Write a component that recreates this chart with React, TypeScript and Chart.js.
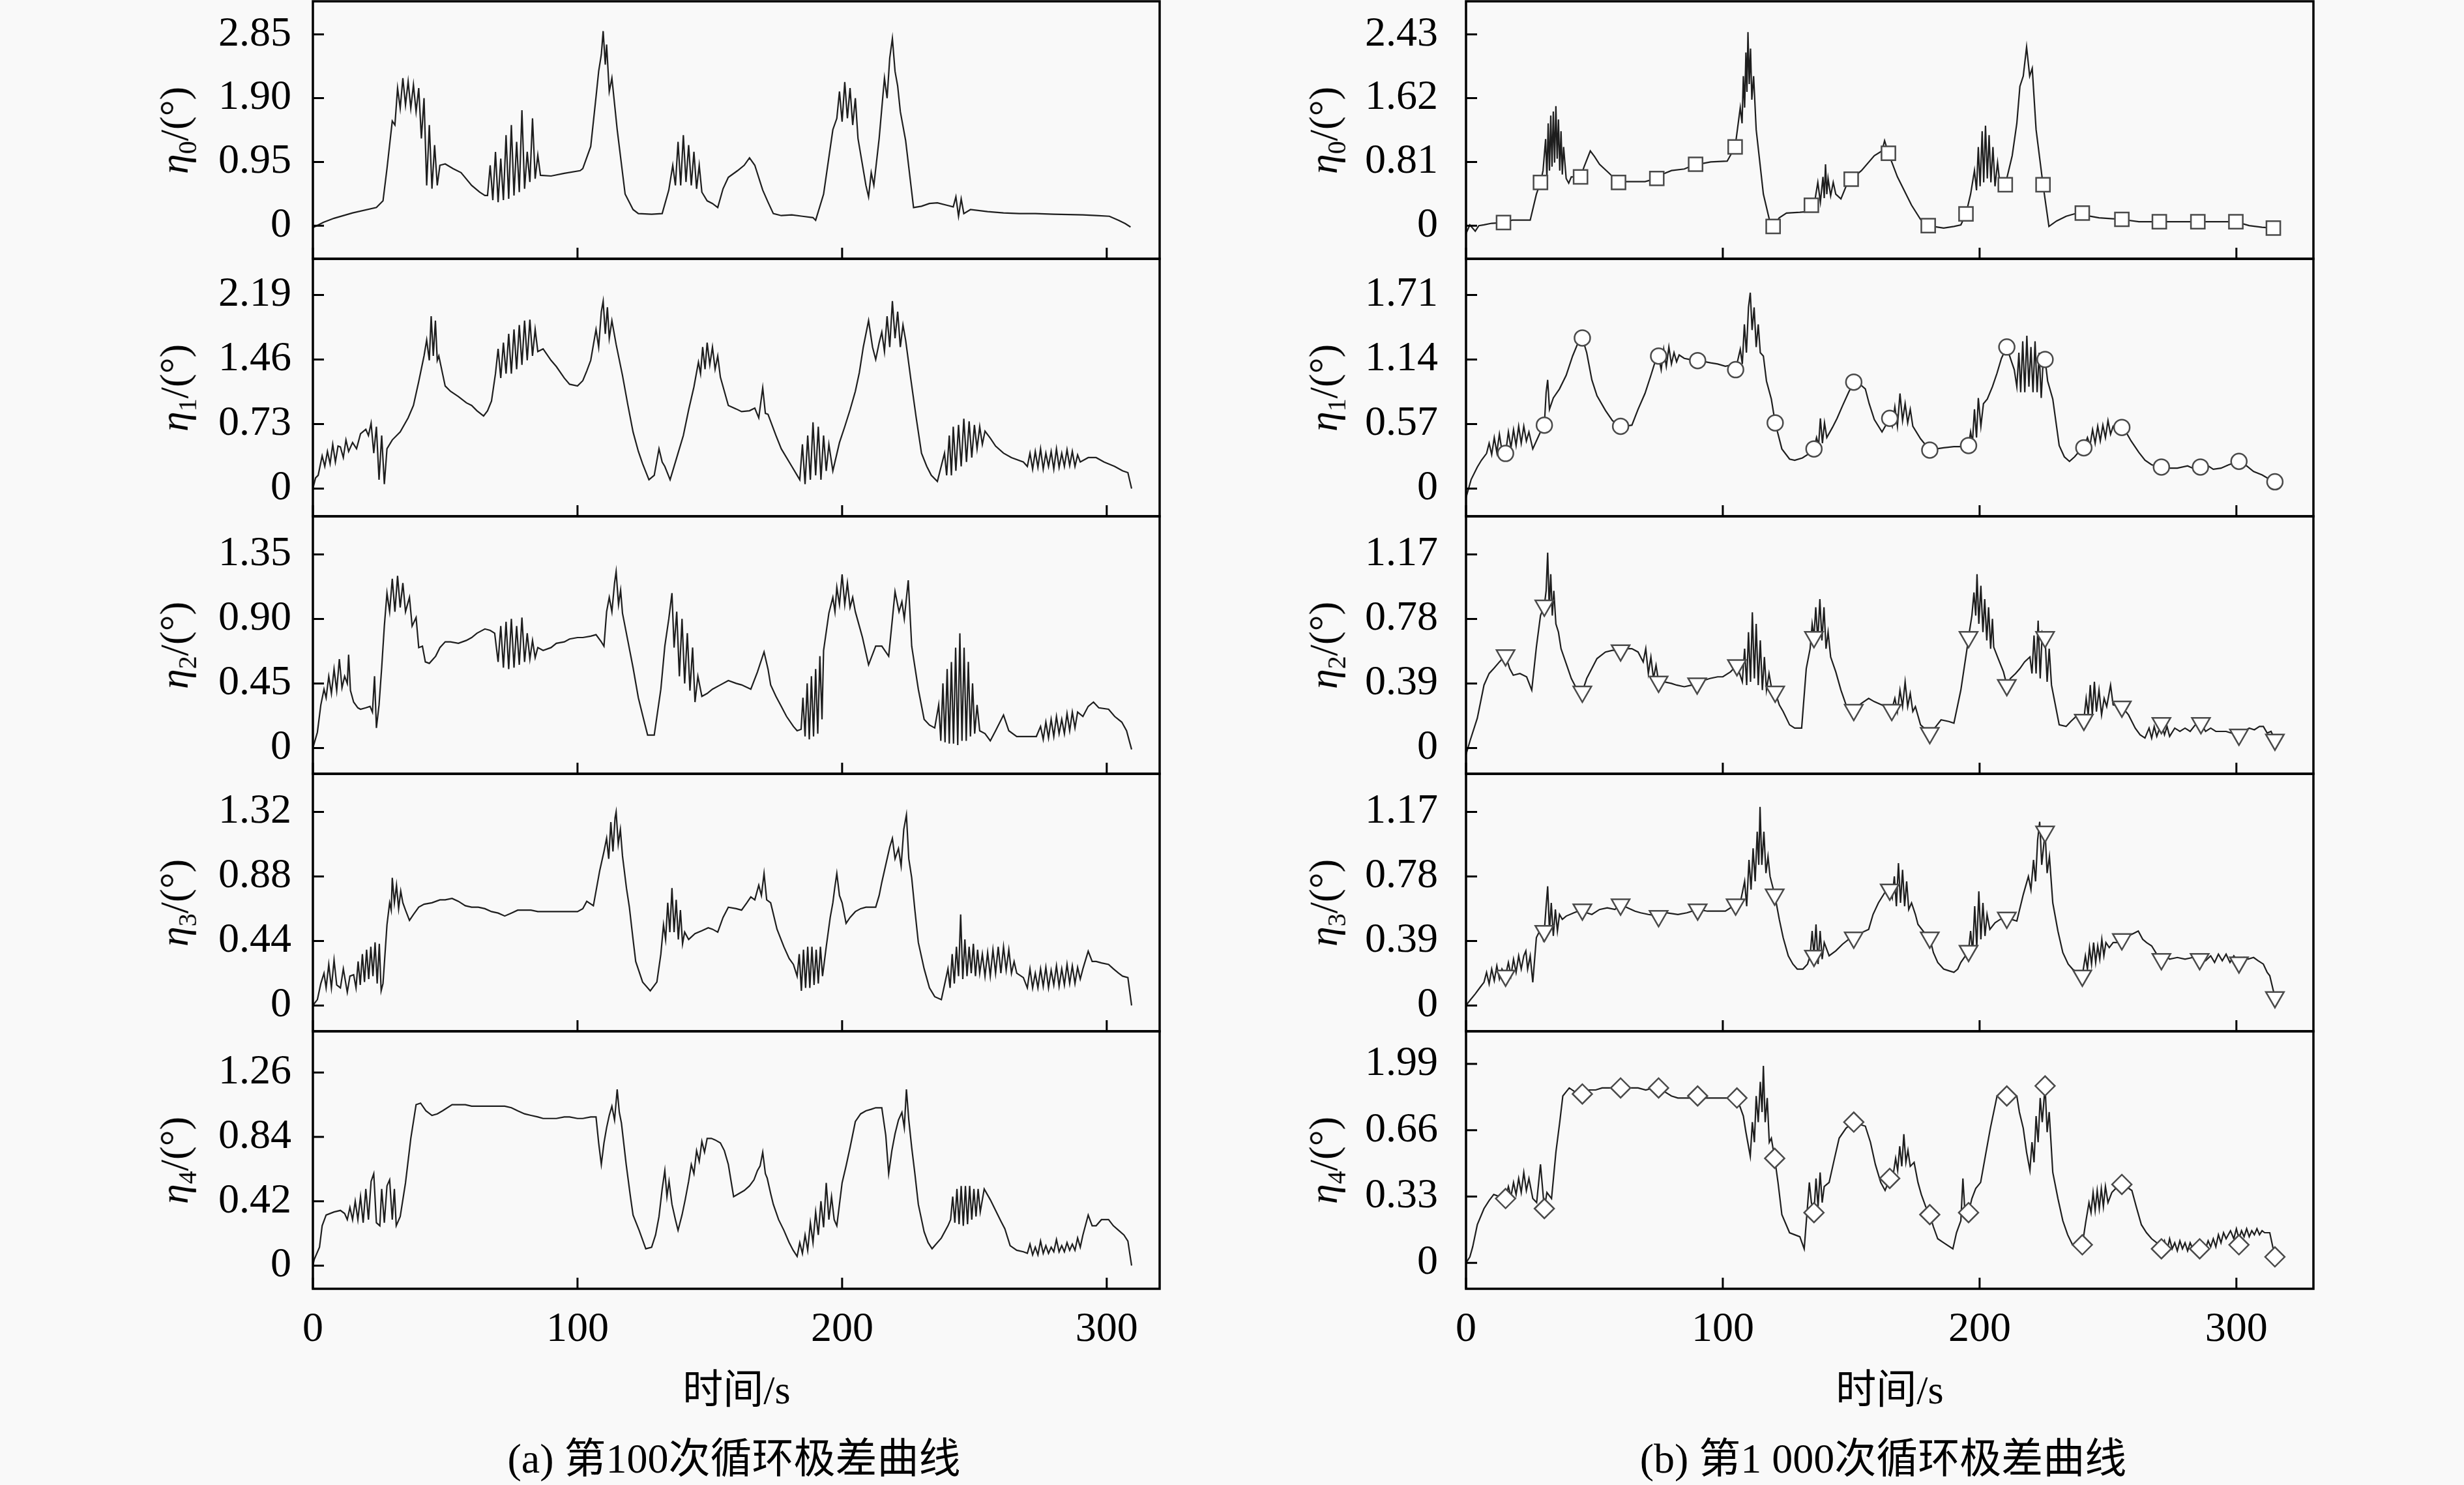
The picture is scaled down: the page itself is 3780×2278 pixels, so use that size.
import { useEffect, useRef } from "react";
import { Chart, registerables } from "chart.js";

Chart.register(...registerables);

type Pt = [number, number];

// ---- (a) cycle 100: range curves, time in s ----
const A0: Pt[] = [[0,-0.03],[4,0.05],[8,0.11],[15,0.19],[24,0.27],[26.5,0.37],[28,0.85],[30,1.56],[31,1.5],[32,2.05],[33,1.75],[34,2.2],[35,1.8],[36,2.15],[37,1.75],[38,2.1],[39,1.7],[40,2.05],[41,1.3],[42,1.9],[43,0.6],[44,1.5],[45,0.55],[46,1.2],[47,0.6],[48,0.9],[50,0.92],[53,0.85],[56,0.79],[60,0.6],[63,0.5],[65,0.45],[66,0.45],[67,0.9],[68,0.38],[69,1.1],[70,0.35],[71,1.0],[72,0.38],[73,1.35],[74,0.4],[75,1.5],[76,0.45],[77,1.25],[78,0.5],[79,1.72],[80,0.55],[81,1.1],[82,0.65],[83,1.6],[84,0.7],[85,1.05],[86,0.75],[90,0.74],[95,0.78],[101,0.82],[102,0.85],[105,1.18],[107,1.92],[108,2.3],[109,2.55],[109.7,2.9],[110.5,2.4],[111,2.7],[112,2.0],[113,2.2],[115,1.43],[118,0.47],[121,0.24],[123,0.18],[128,0.17],[132,0.18],[134.5,0.53],[136,0.9],[137,0.6],[138,1.25],[139,0.6],[140,1.35],[141,0.65],[142,1.2],[143,0.6],[144,1.1],[145,0.55],[146,0.9],[147,0.5],[149,0.37],[151,0.33],[153,0.27],[155,0.55],[157,0.72],[160.5,0.82],[163,0.9],[165,1.01],[167,0.9],[170,0.53],[172,0.35],[174,0.18],[177,0.15],[181,0.16],[185,0.14],[189,0.12],[190,0.08],[193,0.47],[196.5,1.43],[198,1.6],[199,2.0],[200,1.55],[201,2.14],[202,1.6],[203,2.05],[204,1.5],[205,1.9],[206,1.3],[207.5,0.95],[209,0.6],[210,0.43],[211,0.79],[212,0.6],[214,1.3],[216,2.2],[217,1.9],[218,2.5],[219,2.79],[220,2.3],[221,2.08],[222,1.7],[224,1.27],[227,0.27],[230,0.29],[233,0.33],[236,0.34],[240,0.3],[242,0.28],[243,0.43],[244,0.14],[245,0.4],[246,0.18],[248.5,0.24],[255,0.21],[261,0.19],[267,0.18],[273,0.18],[280,0.17],[291,0.16],[296,0.15],[301,0.14],[304.5,0.08],[307,0.03],[309,-0.02]];

const A1: Pt[] = [[0,0.0],[1,0.12],[2,0.15],[3.5,0.37],[4.5,0.25],[5.5,0.42],[6.5,0.28],[7.5,0.5],[8.5,0.3],[9.5,0.48],[10.4,0.47],[11.5,0.35],[12.5,0.55],[13.5,0.42],[15,0.52],[16.5,0.45],[18,0.62],[20,0.67],[21,0.6],[22,0.74],[23,0.4],[24,0.7],[25,0.1],[26,0.6],[27,0.05],[28,0.45],[30,0.55],[33,0.64],[36,0.8],[38,0.94],[40,1.21],[42,1.5],[43,1.68],[44,1.45],[44.7,1.95],[45.5,1.5],[46.3,1.9],[47,1.45],[47.6,1.5],[49,1.3],[50,1.16],[52,1.1],[55,1.04],[58,0.97],[60,0.94],[62,0.88],[64.5,0.82],[66,0.88],[67.5,0.99],[69,1.3],[70,1.58],[71,1.25],[72,1.65],[73,1.3],[74,1.75],[75,1.3],[76,1.8],[77,1.35],[78,1.85],[79,1.4],[80,1.9],[81,1.45],[82,1.91],[83,1.5],[84,1.8],[85,1.55],[87,1.58],[90,1.45],[92,1.38],[95,1.25],[97,1.18],[100,1.16],[102,1.22],[103.5,1.33],[105,1.45],[107,1.8],[108,1.6],[109,2.0],[109.7,2.12],[110.5,1.75],[111.3,2.05],[112,1.7],[113,1.9],[114.6,1.63],[117,1.28],[119,0.95],[121,0.64],[123,0.42],[124.6,0.28],[127,0.1],[129,0.15],[130.8,0.45],[132,0.3],[133,0.25],[135,0.1],[138,0.4],[140,0.6],[142,0.89],[144,1.15],[145.7,1.43],[146.5,1.3],[147.3,1.6],[148.2,1.35],[149,1.65],[150,1.4],[151,1.6],[152,1.35],[153,1.5],[154,1.26],[157,0.94],[160,0.9],[162,0.87],[165,0.88],[167,0.91],[168.5,0.8],[170,1.14],[171,0.85],[172,0.84],[175,0.6],[177,0.45],[181,0.25],[183,0.15],[184,0.1],[185,0.5],[186,0.05],[187,0.6],[188,0.1],[189,0.75],[190,0.15],[191,0.7],[192,0.1],[193,0.6],[194,0.2],[195,0.5],[196.5,0.2],[199,0.52],[201,0.7],[203,0.89],[205,1.1],[206.5,1.31],[208,1.6],[210,1.9],[211.5,1.6],[212.7,1.46],[214,1.65],[215,1.77],[216,1.55],[217,1.95],[218,1.6],[219,2.12],[220,1.7],[221,2.0],[222,1.6],[223,1.85],[224,1.68],[226,1.23],[228,0.8],[230,0.4],[232,0.25],[233.7,0.15],[236,0.08],[238.7,0.4],[239.5,0.15],[240.5,0.6],[241.3,0.15],[242,0.7],[243,0.2],[244,0.72],[245,0.25],[246,0.79],[247,0.3],[248,0.76],[249,0.35],[250,0.72],[251,0.45],[252,0.7],[253,0.5],[254,0.65],[256,0.57],[258,0.48],[261,0.4],[264,0.35],[268.5,0.3],[270,0.25],[271,0.4],[272,0.22],[273,0.42],[274,0.24],[275,0.45],[276,0.22],[277,0.4],[278,0.25],[279,0.42],[280,0.22],[281,0.45],[282,0.24],[283,0.4],[284,0.25],[285,0.44],[286,0.26],[287,0.42],[288,0.25],[289,0.38],[290,0.3],[293,0.35],[296,0.35],[299,0.3],[303,0.25],[306,0.2],[308,0.18],[309.4,0.0]];

const A2: Pt[] = [[0,0.0],[1.7,0.11],[3,0.3],[4.2,0.41],[5,0.35],[6,0.5],[7,0.38],[8,0.55],[9,0.4],[10,0.62],[11,0.42],[12,0.5],[13,0.45],[13.5,0.65],[14.2,0.4],[15.4,0.32],[17,0.28],[18,0.27],[20,0.28],[21.6,0.29],[22.5,0.25],[23.3,0.5],[24,0.14],[25,0.3],[26,0.56],[27,0.85],[28,1.08],[29,0.95],[30,1.18],[31,0.95],[32,1.2],[33,0.98],[34,1.15],[35,0.95],[36.5,1.05],[37.5,0.85],[39,0.91],[40,0.7],[41.4,0.71],[42.5,0.6],[44,0.59],[46.4,0.64],[48,0.7],[50,0.74],[52,0.74],[55,0.73],[58,0.75],[60,0.77],[62,0.8],[65,0.83],[67,0.82],[68.7,0.8],[70,0.6],[71,0.85],[72,0.56],[73,0.88],[74,0.55],[75,0.9],[76,0.56],[77,0.85],[78,0.58],[79,0.91],[80,0.6],[81,0.8],[82,0.62],[83,0.75],[84,0.63],[85,0.7],[87,0.68],[90,0.7],[92,0.73],[95,0.74],[97,0.76],[100,0.77],[102,0.77],[105,0.78],[107,0.79],[109,0.74],[110,0.71],[111,0.95],[112,1.05],[113,0.95],[114,1.15],[114.6,1.23],[115.5,1.0],[116.3,1.1],[117,0.94],[119,0.75],[121,0.56],[123,0.35],[125,0.2],[126.5,0.09],[129,0.09],[131.5,0.41],[133,0.71],[134.5,0.9],[135.7,1.08],[136.5,0.7],[137.5,0.95],[138.5,0.5],[139.5,0.9],[140.5,0.45],[141.5,0.8],[142.5,0.4],[143.5,0.7],[144.4,0.32],[145.5,0.5],[147,0.36],[149,0.38],[151,0.41],[154,0.44],[157,0.47],[160,0.45],[162,0.44],[165.5,0.41],[168,0.53],[170.5,0.67],[172,0.55],[173,0.44],[175,0.36],[177,0.29],[179,0.22],[181.6,0.15],[183,0.12],[184.5,0.13],[185.2,0.35],[186,0.08],[186.8,0.45],[187.6,0.06],[188.4,0.5],[189.2,0.08],[190,0.55],[190.8,0.1],[191.6,0.64],[192.4,0.2],[193,0.68],[195,0.94],[196.5,1.05],[197.3,0.95],[198,1.12],[199,1.0],[200,1.21],[201,1.0],[202,1.15],[203,0.98],[204,1.05],[205,0.95],[206.5,0.85],[207.7,0.77],[210,0.58],[212.7,0.71],[215,0.71],[217.6,0.64],[219,0.9],[220,1.09],[221.5,0.95],[222.6,1.02],[223.5,0.9],[225,1.17],[226.3,0.71],[228.8,0.41],[231,0.2],[233,0.16],[235,0.14],[236.5,0.3],[237.3,0.05],[238.1,0.45],[238.9,0.04],[239.7,0.55],[240.5,0.03],[241.3,0.6],[242.1,0.03],[242.9,0.7],[243.7,0.02],[244.5,0.8],[245.3,0.05],[246.1,0.7],[246.9,0.05],[247.7,0.6],[248.5,0.08],[249.3,0.45],[250.1,0.1],[251,0.3],[252,0.12],[254,0.1],[256,0.05],[258,0.12],[261,0.23],[263,0.12],[266,0.08],[270,0.08],[273.4,0.08],[275,0.15],[276,0.06],[277,0.18],[278,0.07],[279,0.2],[280,0.08],[281,0.22],[282,0.1],[283,0.2],[284,0.1],[285,0.24],[286,0.12],[287,0.25],[288,0.14],[289,0.25],[291,0.22],[293,0.29],[295,0.32],[297,0.28],[300.7,0.27],[303,0.22],[305.7,0.18],[307.5,0.12],[309.4,-0.01]];

const A3: Pt[] = [[0,0.0],[1.7,0.04],[3,0.15],[4.2,0.22],[5,0.12],[6,0.28],[7,0.12],[8,0.31],[9,0.14],[10.4,0.12],[11.5,0.25],[13,0.09],[14,0.2],[15.4,0.21],[16.3,0.12],[17.1,0.3],[17.9,0.14],[18.7,0.35],[19.5,0.16],[20.3,0.38],[21.1,0.18],[21.9,0.4],[22.7,0.2],[23.5,0.43],[24.3,0.15],[25.1,0.42],[25.8,0.1],[26.5,0.15],[28,0.55],[29,0.7],[29.6,0.65],[30,0.87],[30.8,0.7],[31.6,0.82],[32.4,0.66],[33.2,0.78],[34,0.7],[35,0.65],[36.5,0.58],[38,0.62],[40,0.67],[42,0.69],[45,0.7],[48,0.72],[50,0.72],[52.6,0.73],[55,0.71],[57.6,0.68],[60,0.67],[62.5,0.67],[65,0.66],[67.5,0.64],[70,0.63],[72.5,0.61],[75,0.63],[77.4,0.65],[80,0.65],[82.4,0.65],[85,0.64],[87,0.64],[92,0.64],[96,0.64],[100,0.64],[102,0.66],[103.5,0.71],[106,0.68],[108.4,0.92],[110,1.05],[111,1.14],[111.8,1.0],[112.6,1.25],[113.4,1.05],[114.2,1.28],[114.6,1.32],[115.4,1.1],[116.2,1.2],[117,1.02],[118.5,0.8],[119.6,0.67],[121,0.45],[122,0.3],[124.6,0.16],[127.5,0.1],[130,0.16],[131.5,0.35],[132.5,0.55],[133.3,0.45],[134.1,0.7],[134.9,0.5],[135.7,0.8],[136.5,0.5],[137.3,0.72],[138.1,0.45],[138.9,0.65],[139.7,0.42],[140.5,0.5],[142,0.45],[144.4,0.49],[147,0.51],[149.4,0.53],[151,0.52],[153,0.5],[155,0.6],[157,0.67],[160,0.66],[162,0.65],[164,0.7],[165.5,0.74],[167,0.72],[168.5,0.82],[169.5,0.75],[170.5,0.9],[171.5,0.72],[173,0.7],[175.4,0.52],[178,0.4],[180,0.32],[181.6,0.28],[183,0.2],[183.8,0.35],[184.6,0.1],[185.4,0.38],[186.2,0.12],[187,0.4],[187.8,0.12],[188.6,0.4],[189.4,0.14],[190.2,0.38],[191,0.15],[191.8,0.4],[192.6,0.2],[194,0.4],[195.5,0.6],[196.5,0.7],[197.2,0.8],[198,0.9],[199,0.75],[200,0.7],[201.5,0.56],[203,0.6],[205,0.64],[207,0.66],[209,0.67],[211,0.67],[212.7,0.67],[214,0.75],[215,0.84],[217,1.0],[218,1.08],[219,1.14],[220,1.0],[221.3,1.07],[222.3,0.95],[223.3,1.2],[224.3,1.3],[225.2,1.0],[226.3,0.87],[227.5,0.65],[228.8,0.43],[231,0.25],[233,0.12],[235,0.06],[237.5,0.04],[240,0.25],[240.8,0.12],[241.6,0.35],[242.4,0.15],[243.2,0.4],[244,0.2],[244.8,0.62],[245.6,0.18],[246.4,0.45],[247.2,0.2],[248,0.4],[248.8,0.22],[249.6,0.42],[250.4,0.2],[251.2,0.38],[252,0.22],[253,0.35],[254,0.2],[255,0.36],[256,0.2],[257,0.38],[258,0.22],[259,0.4],[260,0.22],[261,0.4],[262,0.24],[263,0.38],[264,0.22],[265,0.3],[266,0.22],[268.5,0.19],[270,0.12],[271,0.25],[272,0.12],[273,0.22],[274,0.12],[275,0.25],[276,0.13],[277,0.26],[278,0.12],[279,0.24],[280,0.14],[281,0.27],[282,0.13],[283,0.25],[284,0.14],[285,0.28],[286,0.15],[287,0.27],[288,0.15],[289,0.26],[290,0.18],[291,0.25],[293,0.37],[294.5,0.3],[296,0.3],[298,0.29],[300.7,0.28],[302.5,0.25],[304.5,0.22],[306,0.2],[308,0.19],[309.4,0.0]];

const A4: Pt[] = [[0,0.0],[0.5,0.04],[2.5,0.12],[3.5,0.26],[5,0.33],[8,0.35],[10.4,0.36],[12,0.34],[13,0.3],[14,0.38],[15,0.3],[16,0.42],[17,0.3],[18,0.45],[19,0.28],[20,0.5],[21,0.3],[22,0.55],[23,0.6],[24,0.28],[25.3,0.26],[26,0.5],[27,0.28],[28,0.52],[29,0.56],[30,0.3],[30.8,0.5],[31.5,0.26],[33,0.32],[35,0.54],[37,0.83],[39,1.05],[40.7,1.06],[42.7,1.01],[45,0.98],[47,0.99],[49,1.01],[52.6,1.05],[55,1.05],[57.6,1.05],[60,1.04],[62.5,1.04],[65,1.04],[67.5,1.04],[70,1.04],[72.5,1.04],[75,1.03],[77.4,1.01],[80,0.99],[82.4,0.98],[85,0.97],[87,0.96],[90,0.96],[92,0.96],[95,0.97],[97,0.97],[100,0.96],[102,0.96],[105,0.97],[107,0.97],[108,0.8],[109,0.66],[110,0.8],[111,0.9],[112,0.98],[113,1.04],[114,0.95],[115,1.15],[115.8,1.0],[116.6,0.93],[118.4,0.66],[120,0.45],[121,0.33],[123.3,0.23],[125.8,0.11],[128,0.12],[129.5,0.2],[130.8,0.32],[132,0.5],[133,0.62],[133.8,0.45],[134.6,0.55],[135.7,0.4],[137,0.3],[138,0.23],[139.5,0.33],[140.7,0.43],[142,0.55],[143,0.66],[144,0.6],[145,0.75],[146,0.68],[147,0.81],[148,0.74],[149,0.83],[150.6,0.83],[152,0.82],[154,0.8],[155.5,0.75],[157,0.66],[159,0.45],[161,0.47],[163,0.49],[165,0.52],[166.7,0.56],[168,0.62],[169,0.65],[170,0.74],[171,0.6],[171.7,0.57],[173,0.47],[174,0.4],[176,0.3],[178,0.23],[180,0.15],[181.5,0.1],[183,0.06],[184,0.15],[185,0.08],[186,0.2],[187,0.1],[188,0.28],[189,0.15],[190,0.35],[191,0.2],[192,0.42],[193,0.25],[194,0.54],[195,0.3],[196,0.45],[197,0.3],[198,0.26],[199,0.4],[200,0.54],[201.5,0.65],[203,0.77],[205,0.94],[207,0.99],[209,1.01],[211,1.02],[212.7,1.03],[215,1.03],[216.5,0.85],[217.6,0.6],[218.8,0.75],[220,0.86],[221.3,0.95],[222.6,1.0],[223.5,0.9],[224.3,1.15],[225.2,0.95],[226.3,0.77],[227.5,0.6],[228.8,0.4],[231,0.22],[232.5,0.15],[234,0.11],[235.5,0.14],[237.5,0.18],[240,0.26],[241,0.3],[241.8,0.45],[242.6,0.28],[243.4,0.5],[244.2,0.27],[245,0.52],[245.8,0.26],[246.6,0.52],[247.4,0.27],[248.2,0.52],[249,0.3],[249.8,0.5],[250.6,0.32],[251.4,0.5],[252.2,0.35],[253.7,0.5],[256,0.43],[258,0.36],[260,0.29],[261.5,0.24],[263.5,0.13],[266,0.1],[268.5,0.09],[270,0.08],[271,0.14],[272,0.07],[273,0.12],[274,0.07],[275,0.16],[276,0.08],[277,0.13],[278,0.08],[279,0.12],[280,0.09],[281,0.17],[282,0.09],[283,0.13],[284,0.09],[285,0.15],[286,0.1],[287,0.14],[288,0.1],[289,0.18],[290,0.12],[291,0.2],[293,0.33],[294.5,0.26],[296,0.26],[298,0.3],[300.7,0.3],[302.5,0.26],[304.5,0.23],[306.5,0.2],[308,0.16],[309.4,0.0]];

// ---- (b) cycle 1 000 ----
const B0: Pt[] = [[0,-0.1],[1.5,0.01],[3.6,-0.07],[5,0.0],[7,0.01],[10,0.03],[14.6,0.04],[18,0.07],[22,0.07],[25,0.07],[27.4,0.4],[29,0.55],[30,0.7],[31,1.1],[31.5,0.6],[32,1.3],[32.5,0.7],[33,1.4],[33.5,0.75],[34,1.45],[34.5,0.8],[35,1.52],[35.5,0.85],[36,1.35],[36.5,0.7],[37,1.2],[37.5,0.65],[38,1.0],[39,0.6],[40,0.54],[41,0.62],[43,0.62],[44.6,0.62],[46,0.75],[48.4,0.95],[50,0.88],[52,0.78],[55.6,0.67],[59.4,0.55],[62,0.56],[64.6,0.56],[69.7,0.56],[72,0.58],[74.3,0.6],[77,0.66],[80,0.7],[85,0.72],[89.4,0.78],[92,0.79],[95.3,0.81],[101.7,0.82],[104.8,1.0],[106.8,1.5],[107.5,1.3],[108,1.9],[108.5,1.5],[109,2.2],[109.4,1.7],[109.8,2.46],[110.3,1.8],[110.8,2.25],[111.3,1.6],[112,1.9],[113,1.22],[115.8,0.4],[118.4,0.04],[119.6,-0.01],[122,0.1],[124.8,0.16],[130,0.17],[133.7,0.18],[134.5,0.26],[136,0.35],[137,0.55],[138,0.3],[139,0.62],[139.5,0.35],[140,0.78],[140.5,0.4],[141,0.6],[142,0.38],[143,0.55],[144,0.4],[146,0.34],[148,0.5],[150,0.59],[154,0.7],[159,0.89],[162,0.95],[163,1.08],[164.5,0.92],[168,0.62],[173.5,0.26],[177,0.08],[180,0.0],[186,-0.03],[190,-0.01],[192.7,0.01],[194.7,0.15],[196.5,0.4],[198,0.7],[198.8,0.45],[199.5,1.0],[200.2,0.5],[201,1.2],[201.6,0.55],[202.3,1.27],[203,0.6],[203.7,1.15],[204.4,0.55],[205.2,1.0],[206,0.5],[207,0.8],[208,0.5],[210,0.52],[212.7,0.89],[214.5,1.3],[215.7,1.77],[217,1.9],[218.3,2.27],[219.5,1.9],[220.5,2.0],[222,1.22],[224.7,0.52],[227,-0.01],[230,0.06],[233.7,0.12],[237,0.15],[240,0.16],[243,0.12],[246.5,0.1],[251,0.09],[255.4,0.08],[262,0.05],[266,0.05],[270,0.05],[277,0.05],[285,0.05],[292,0.05],[299.8,0.05],[305,0.0],[310,-0.02],[314.4,-0.03]];
const B0_MARKS: Pt[] = [[14.6,0.04],[29,0.55],[44.6,0.62],[59.4,0.55],[74.3,0.6],[89.4,0.78],[104.8,1.0],[119.6,-0.01],[134.5,0.26],[150,0.59],[164.5,0.92],[180,0.0],[194.7,0.15],[210,0.52],[224.7,0.52],[240,0.16],[255.4,0.08],[270,0.05],[285,0.05],[299.8,0.05],[314.4,-0.03]];

const B1: Pt[] = [[0,-0.08],[2,0.08],[4.4,0.19],[6,0.25],[8,0.31],[9,0.4],[10,0.3],[11,0.45],[12,0.32],[13,0.48],[14,0.33],[15.4,0.31],[16.5,0.5],[17.5,0.36],[18.5,0.52],[19.5,0.38],[20.5,0.55],[21.5,0.4],[22.5,0.55],[23.5,0.42],[24.5,0.5],[26,0.35],[28,0.45],[29,0.5],[30.5,0.56],[31.2,0.85],[31.8,0.96],[32.5,0.7],[34,0.8],[36.4,0.88],[39,1.0],[41.5,1.17],[43.5,1.28],[45.3,1.33],[47,1.2],[49,0.96],[51,0.82],[54.3,0.69],[57,0.6],[60.2,0.55],[62,0.55],[64.6,0.56],[67,0.7],[69.7,0.84],[72,1.0],[73.5,1.11],[75,1.17],[76,1.05],[77,1.23],[78,1.08],[79,1.25],[80,1.1],[81,1.2],[82,1.12],[83,1.18],[85,1.15],[87,1.14],[90.2,1.13],[93,1.12],[95.3,1.11],[98,1.1],[101,1.08],[103,1.09],[105,1.05],[106.8,1.23],[107.6,1.1],[108.4,1.45],[109.2,1.2],[110,1.6],[110.7,1.73],[111.4,1.4],[112.2,1.6],[113,1.25],[113.8,1.45],[114.6,1.2],[115.8,1.17],[117,0.95],[118.9,0.79],[120.4,0.58],[123,0.35],[126,0.26],[128,0.25],[131,0.27],[133,0.3],[135.5,0.35],[136.5,0.45],[137.3,0.38],[138,0.62],[138.8,0.4],[139.6,0.58],[140.5,0.45],[142.7,0.54],[144.5,0.62],[146.6,0.73],[149,0.85],[151,0.94],[153,0.93],[155.5,0.88],[157,0.75],[159,0.61],[162,0.5],[165,0.62],[166,0.55],[167,0.72],[168,0.55],[169,0.84],[170,0.6],[171,0.75],[172,0.58],[173,0.7],[174,0.55],[177,0.44],[180.6,0.34],[183,0.35],[186,0.36],[190,0.37],[193,0.37],[195.7,0.38],[196.5,0.5],[197.2,0.4],[198,0.7],[198.8,0.45],[199.5,0.8],[200.5,0.55],[201.5,0.75],[203,0.79],[205,0.9],[206.8,1.02],[208.5,1.15],[210.6,1.25],[212,1.15],[213.5,1.05],[214.5,0.9],[215.3,1.2],[216,0.85],[216.8,1.3],[217.6,0.85],[218.4,1.35],[219.2,0.9],[220,1.25],[220.8,0.85],[221.6,1.3],[222.4,0.85],[223.2,1.2],[224,0.8],[224.8,1.15],[225.5,1.14],[226.5,0.95],[228.5,0.79],[231,0.38],[233,0.28],[235,0.24],[237,0.28],[238.5,0.32],[240.6,0.36],[242,0.45],[243,0.38],[244,0.52],[245,0.4],[246,0.55],[247,0.42],[248,0.56],[249,0.45],[250,0.6],[251,0.48],[252,0.55],[253.5,0.52],[255.4,0.54],[257,0.5],[259,0.42],[262,0.32],[264.4,0.25],[267,0.21],[270.8,0.19],[274,0.18],[277,0.18],[281,0.2],[283,0.18],[286,0.19],[289,0.2],[291,0.17],[294,0.18],[297,0.21],[301,0.24],[304,0.2],[306.7,0.15],[310,0.12],[313,0.08],[315,0.06]];
const B1_MARKS: Pt[] = [[15.4,0.31],[30.5,0.56],[45.3,1.33],[60.2,0.55],[75,1.17],[90.2,1.13],[105,1.05],[120.4,0.58],[135.5,0.35],[151,0.94],[165,0.62],[180.6,0.34],[195.7,0.38],[210.6,1.25],[225.5,1.14],[240.6,0.36],[255.4,0.54],[270.8,0.19],[286,0.19],[301,0.24],[315,0.06]];

const B2: Pt[] = [[0,-0.04],[1.5,0.04],[4.4,0.18],[7,0.38],[9,0.45],[10.8,0.48],[13,0.52],[15.4,0.56],[17,0.48],[18.4,0.44],[21,0.45],[23.6,0.43],[25.6,0.35],[27.4,0.61],[29,0.8],[30.5,0.86],[31.2,0.95],[31.8,1.18],[32.4,0.85],[33,1.05],[33.6,0.8],[34.2,0.95],[35,0.75],[36,0.7],[37,0.6],[39,0.51],[41,0.42],[43,0.36],[45.3,0.34],[47,0.42],[49,0.48],[51,0.54],[54.3,0.58],[57,0.59],[60.2,0.59],[62,0.6],[64.6,0.6],[67,0.58],[69,0.52],[70,0.6],[71,0.45],[72,0.55],[73,0.42],[74,0.5],[75,0.4],[77,0.4],[80,0.39],[82,0.38],[85,0.37],[88,0.38],[90,0.39],[93,0.41],[95,0.42],[98,0.43],[100,0.43],[103,0.46],[105.5,0.5],[107.6,0.4],[108.5,0.6],[109.3,0.38],[110,0.7],[110.8,0.4],[111.5,0.82],[112.3,0.42],[113,0.75],[113.8,0.38],[114.6,0.65],[115.4,0.35],[116.2,0.55],[117,0.35],[118,0.45],[119,0.36],[120.4,0.34],[122,0.26],[123.5,0.22],[126,0.14],[128,0.12],[130.7,0.12],[132.5,0.48],[134,0.6],[134.8,0.75],[135.5,0.67],[136.2,0.85],[137,0.65],[137.8,0.9],[138.6,0.65],[139.4,0.85],[140.2,0.6],[141,0.7],[142,0.55],[144,0.46],[146,0.35],[148,0.26],[151,0.23],[154,0.27],[156.8,0.3],[159,0.28],[162,0.26],[165.8,0.23],[167,0.3],[168,0.22],[169,0.35],[170,0.25],[171,0.4],[172,0.25],[173,0.33],[174,0.22],[175,0.25],[177,0.14],[180.6,0.09],[183,0.13],[185,0.17],[188,0.16],[190,0.15],[192.7,0.35],[195.2,0.61],[195.7,0.67],[197,0.8],[197.8,0.94],[198.5,0.8],[199,1.05],[199.7,0.75],[200.5,0.98],[201.3,0.7],[202,0.9],[202.8,0.65],[203.5,0.85],[204.3,0.6],[205,0.78],[205.5,0.61],[207,0.55],[209.3,0.46],[210.6,0.38],[212,0.42],[214,0.45],[215.7,0.48],[217.5,0.52],[219.6,0.55],[220.4,0.45],[221.2,0.68],[222,0.45],[222.8,0.77],[223.6,0.42],[224.4,0.7],[225.5,0.67],[226.3,0.4],[227.1,0.6],[228,0.38],[229,0.3],[231,0.14],[233.7,0.13],[235.5,0.16],[237.5,0.19],[240.6,0.17],[241.5,0.3],[242.3,0.2],[243.1,0.38],[243.9,0.2],[244.7,0.4],[245.5,0.22],[246.5,0.35],[247.5,0.2],[248.5,0.3],[249.5,0.25],[251,0.38],[252,0.26],[255.4,0.25],[258,0.2],[260.6,0.12],[262.5,0.08],[264.4,0.06],[266,0.12],[267,0.06],[268,0.13],[269,0.07],[270.8,0.15],[272,0.08],[273,0.13],[274,0.07],[276,0.12],[278,0.1],[280,0.12],[282,0.1],[284,0.14],[286.2,0.15],[288,0.1],[290,0.12],[292,0.1],[294,0.1],[296,0.1],[298,0.09],[301,0.08],[303,0.1],[305,0.12],[307,0.11],[309,0.13],[310.5,0.13],[312,0.09],[313.5,0.1],[315,0.05]];
const B2_MARKS: Pt[] = [[15.4,0.56],[30.5,0.86],[45.3,0.34],[60.2,0.59],[75,0.4],[90,0.39],[105.5,0.5],[120.4,0.34],[135.5,0.67],[151,0.23],[165.8,0.23],[180.6,0.09],[195.7,0.67],[210.6,0.38],[225.5,0.67],[240.6,0.17],[255.4,0.25],[270.8,0.15],[286.2,0.15],[301,0.08],[315,0.05]];

const B3: Pt[] = [[0,0.0],[1.5,0.03],[3.6,0.07],[5.5,0.11],[7,0.14],[8,0.2],[9,0.13],[10,0.22],[11,0.15],[12,0.24],[13,0.16],[14,0.22],[15.4,0.18],[16.5,0.26],[17.5,0.18],[18.5,0.28],[19.5,0.2],[20.5,0.3],[21.5,0.22],[22.5,0.3],[23.3,0.33],[24,0.22],[25,0.3],[26,0.14],[27.4,0.41],[29,0.46],[30,0.4],[30.5,0.45],[31.2,0.6],[31.8,0.72],[32.5,0.45],[33.2,0.62],[34,0.42],[34.8,0.58],[35.6,0.45],[36.4,0.55],[37.5,0.52],[39,0.54],[42,0.56],[45.3,0.58],[47,0.56],[49,0.55],[52,0.58],[55,0.59],[58,0.58],[60.2,0.61],[63,0.59],[65.8,0.57],[68,0.56],[71,0.55],[75,0.54],[78,0.56],[82.5,0.55],[86,0.56],[90.2,0.58],[94,0.57],[97.9,0.57],[101,0.57],[105,0.61],[106.8,0.62],[108.5,0.75],[109.3,0.6],[110.2,0.88],[111,0.7],[111.8,0.95],[112.6,0.75],[113.4,1.05],[114,0.85],[114.5,1.2],[115.2,0.85],[116,1.05],[116.8,0.8],[117.6,0.9],[118.4,0.78],[120.2,0.67],[122,0.52],[123.5,0.41],[125.5,0.3],[127.3,0.25],[129,0.22],[131.2,0.22],[133,0.25],[134,0.3],[134.8,0.45],[135.5,0.3],[136.3,0.49],[137.1,0.25],[137.9,0.45],[138.7,0.28],[139.5,0.38],[141.4,0.3],[144,0.33],[146.6,0.37],[149,0.4],[151,0.41],[154,0.44],[156.8,0.46],[158.5,0.55],[160.6,0.62],[163,0.68],[165,0.7],[166,0.65],[166.8,0.78],[167.6,0.6],[168.4,0.86],[169.2,0.62],[170,0.82],[170.8,0.6],[171.6,0.75],[172.4,0.58],[173.5,0.62],[175,0.55],[176,0.49],[178,0.45],[180.6,0.41],[182,0.32],[183.7,0.26],[186,0.22],[188,0.21],[190,0.2],[191.5,0.22],[192.7,0.26],[194.5,0.3],[195.7,0.33],[196.5,0.45],[197.3,0.32],[198.1,0.6],[198.9,0.35],[199.7,0.69],[200.5,0.4],[201.3,0.62],[202.1,0.42],[202.9,0.55],[204,0.46],[206,0.5],[208,0.52],[210.6,0.53],[212.5,0.52],[214.5,0.51],[217,0.67],[219,0.78],[220,0.7],[221,0.88],[221.8,0.75],[222.6,1.0],[223.4,1.11],[224.2,0.85],[225.5,1.05],[226.3,0.8],[227.2,0.9],[228.5,0.62],[230.5,0.45],[232.4,0.32],[234.5,0.25],[236.2,0.22],[238,0.2],[240,0.18],[241.2,0.3],[242,0.22],[242.8,0.35],[243.6,0.25],[244.4,0.38],[245.2,0.26],[246,0.36],[246.8,0.28],[247.6,0.4],[248.4,0.3],[249.2,0.38],[250.5,0.35],[252,0.38],[253.5,0.38],[255.4,0.4],[258,0.42],[261.8,0.45],[263.5,0.4],[265,0.38],[267,0.36],[269,0.31],[270.8,0.28],[272.5,0.3],[274,0.28],[277,0.29],[280,0.28],[283,0.29],[285.7,0.28],[288,0.27],[290,0.3],[291.5,0.26],[293,0.31],[294.5,0.27],[296,0.31],[297.5,0.26],[299,0.3],[301,0.26],[303,0.29],[304.5,0.28],[306.7,0.29],[308.5,0.27],[310.5,0.25],[312,0.2],[313,0.18],[315,0.05]];
const B3_MARKS: Pt[] = [[15.4,0.18],[30.5,0.45],[45.3,0.58],[60.2,0.61],[75,0.54],[90.2,0.58],[105,0.61],[120.2,0.67],[135.5,0.3],[151,0.41],[165,0.7],[180.6,0.41],[195.7,0.33],[210.6,0.53],[225.5,1.05],[240,0.18],[255.4,0.4],[270.8,0.28],[285.7,0.28],[301,0.26],[315,0.05]];

const B4: Pt[] = [[0,0.0],[1.5,0.03],[2.6,0.08],[4.4,0.19],[7,0.27],[9,0.31],[10.8,0.34],[13,0.33],[15.4,0.32],[16.5,0.38],[17.5,0.33],[18.5,0.4],[19.5,0.34],[20.5,0.42],[21.5,0.35],[22.5,0.45],[23.5,0.36],[24.5,0.42],[26,0.32],[27.5,0.3],[29,0.49],[30.5,0.27],[31.5,0.35],[33.3,0.32],[35,0.55],[36.5,0.7],[37.7,0.83],[40.2,0.87],[42.5,0.85],[45.3,0.84],[47.5,0.86],[50.5,0.86],[53,0.87],[56,0.87],[60.2,0.87],[63,0.87],[67,0.87],[70,0.86],[73,0.87],[75,0.87],[77.5,0.85],[80,0.83],[82.5,0.82],[85,0.82],[87.5,0.82],[90.2,0.83],[93,0.82],[95.5,0.82],[98,0.82],[101,0.82],[103,0.82],[105.5,0.82],[108,0.73],[109,0.65],[110.7,0.53],[111.5,0.7],[112.3,0.6],[113,0.83],[113.8,0.7],[114.6,0.9],[115.3,0.75],[115.8,0.98],[116.5,0.7],[117.3,0.82],[118.1,0.6],[118.9,0.62],[120.2,0.52],[121.5,0.4],[123,0.24],[126,0.15],[128,0.14],[130,0.13],[131.7,0.07],[133.7,0.4],[134.5,0.3],[135.5,0.25],[136.3,0.42],[137.1,0.28],[137.9,0.45],[138.7,0.3],[139.5,0.38],[141.4,0.4],[143.5,0.52],[145.3,0.62],[148,0.67],[151,0.7],[153,0.69],[155.5,0.68],[157.5,0.6],[159.4,0.49],[161.5,0.4],[163.2,0.36],[165,0.42],[166.5,0.45],[167.3,0.52],[168.1,0.46],[168.9,0.58],[169.7,0.48],[170.5,0.64],[171.3,0.5],[172.1,0.56],[173,0.48],[174.5,0.5],[176,0.4],[177.3,0.34],[179,0.28],[180.6,0.24],[182,0.18],[183.7,0.12],[186,0.1],[189.6,0.07],[191,0.15],[192.7,0.21],[193.5,0.42],[194.3,0.25],[195.7,0.25],[197,0.32],[198.5,0.37],[200.4,0.4],[202.5,0.55],[204.2,0.67],[206.8,0.83],[208.5,0.84],[210.6,0.83],[212.5,0.83],[214.5,0.83],[215.5,0.75],[217,0.67],[218.3,0.55],[219.6,0.46],[220.4,0.6],[221.2,0.5],[222,0.73],[222.8,0.6],[223.6,0.82],[224.4,0.7],[225.5,0.88],[226.3,0.65],[227.1,0.75],[228.5,0.45],[230.5,0.32],[232.4,0.21],[234.3,0.14],[236.2,0.09],[238,0.09],[240,0.09],[241.3,0.2],[242.6,0.3],[243.4,0.25],[244.2,0.35],[245,0.26],[245.8,0.36],[246.6,0.27],[247.4,0.37],[248.2,0.28],[249,0.38],[250,0.3],[251.5,0.35],[253,0.37],[255.4,0.39],[257,0.38],[259.3,0.36],[261,0.28],[263,0.19],[265,0.15],[267,0.12],[269,0.1],[270.8,0.07],[272,0.11],[273,0.06],[274,0.12],[275,0.07],[276,0.1],[277,0.06],[278,0.11],[279,0.07],[280,0.1],[281,0.06],[282,0.1],[283,0.07],[284,0.09],[285.7,0.07],[287,0.1],[288,0.07],[289,0.11],[290,0.08],[291,0.12],[292,0.08],[293,0.14],[294,0.1],[295,0.15],[296,0.12],[297.7,0.16],[299,0.12],[300,0.17],[301,0.12],[302,0.16],[303,0.13],[304,0.17],[305,0.13],[306,0.16],[307,0.14],[308,0.17],[309,0.14],[310,0.16],[311,0.15],[313,0.15],[315,0.03]];
const B4_MARKS: Pt[] = [[15.4,0.32],[30.5,0.27],[45.3,0.84],[60.2,0.87],[75,0.87],[90.2,0.83],[105.5,0.82],[120.2,0.52],[135.5,0.25],[151,0.7],[165,0.42],[180.6,0.24],[195.7,0.25],[210.6,0.83],[225.5,0.88],[240,0.09],[255.4,0.39],[270.8,0.07],[285.7,0.07],[301,0.09],[315,0.03]];

// tick labels as printed
const A_STEPS = [0.95, 0.73, 0.45, 0.44, 0.42];
const B_STEPS = [0.81, 0.57, 0.39, 0.39, 0.33];
const A_LABELS = [
  ["0", "0.95", "1.90", "2.85"],
  ["0", "0.73", "1.46", "2.19"],
  ["0", "0.45", "0.90", "1.35"],
  ["0", "0.44", "0.88", "1.32"],
  ["0", "0.42", "0.84", "1.26"],
];
const B_LABELS = [
  ["0", "0.81", "1.62", "2.43"],
  ["0", "0.57", "1.14", "1.71"],
  ["0", "0.39", "0.78", "1.17"],
  ["0", "0.39", "0.78", "1.17"],
  ["0", "0.33", "0.66", "1.99"],
];
const X_TICKS = [0, 100, 200, 300];
const X_MAX = [320, 330];
const A_SERIES = [A0, A1, A2, A3, A4];
const B_SERIES = [B0, B1, B2, B3, B4];
const B_MARKS = [B0_MARKS, B1_MARKS, B2_MARKS, B3_MARKS, B4_MARKS];
const B_STYLES = ["rect", "circle", "triangle", "triangle", "rectRot"];

// layout (px)
const PLOT_LEFT = [480, 2249];
const PLOT_W = [1299, 1300];
const AXIS_W = 250;
const TOP0 = 2;
const ROW_H = 395;
const ROW_LO = [0.52, 0.43, 0.4, 0.4, 0.36];
const ROW_HI = [3.52, 3.56, 3.59, 3.59, 3.64];
const SERIF = "'Liberation Serif', 'Times New Roman', serif";
const BG = "#f9f9f9";

const framePlugin = {
  id: "frame",
  afterDraw(chart: any) {
    const { ctx, chartArea: a, scales } = chart;
    ctx.save();
    ctx.strokeStyle = "#000";
    ctx.lineWidth = 3.5;
    ctx.strokeRect(a.left, a.top, a.right - a.left, a.bottom - a.top);
    ctx.lineWidth = 3;
    ctx.beginPath();
    scales.y.ticks.forEach((t: any) => {
      const y = scales.y.getPixelForValue(t.value);
      ctx.moveTo(a.left, y);
      ctx.lineTo(a.left + 17, y);
    });
    scales.x.ticks.forEach((t: any) => {
      const x = scales.x.getPixelForValue(t.value);
      ctx.moveTo(x, a.bottom);
      ctx.lineTo(x, a.bottom - 17);
    });
    ctx.stroke();
    ctx.restore();
  },
};

interface PanelProps {
  col: number;
  row: number;
  series: Pt[];
  marks?: Pt[];
  markStyle?: string;
  step: number;
  labels: string[];
  lo: number;
  hi: number;
}

function Panel({ col, row, series, marks, markStyle, step, labels, lo, hi }: PanelProps) {
  const ref = useRef<HTMLCanvasElement>(null);
  const last = row === 4;
  const padT = 4;
  const padR = 6;
  const padB = last ? 0 : 4;
  const xAxisH = last ? 100 : 0;
  const w = AXIS_W + PLOT_W[col] + padR;
  const h = padT + ROW_H + padB + xAxisH;
  const left = PLOT_LEFT[col] - AXIS_W;
  const top = TOP0 + row * ROW_H - padT;

  useEffect(() => {
    if (!ref.current) return;
    const datasets: any[] = [
      {
        data: series.map(([x, y]) => ({ x, y })),
        borderColor: "#1e1e1e",
        borderWidth: 2.2,
        pointRadius: 0,
        tension: 0,
        order: 2,
      },
    ];
    if (marks) {
      const tri = markStyle === "triangle";
      datasets.push({
        data: marks.map(([x, y]) => ({ x, y })),
        showLine: false,
        pointStyle: markStyle,
        pointRotation: tri ? 180 : 0,
        pointRadius: markStyle === "circle" ? 12 : tri ? 16 : 15,
        pointBackgroundColor: "#ffffff",
        pointBorderColor: "#4a4a4a",
        pointBorderWidth: 2.5,
        order: 1,
      });
    }
    // keep tick-label overhang from shrinking the plot area
    const noPad = (s: any) => {
      s.paddingTop = 0;
      s.paddingBottom = 0;
      s.paddingLeft = 0;
      s.paddingRight = 0;
    };
    const chart = new Chart(ref.current, {
      type: "line",
      data: { datasets },
      options: {
        animation: false,
        responsive: false,
        devicePixelRatio: 1,
        layout: {
          autoPadding: false,
          padding: { top: padT, right: padR, bottom: padB, left: 0 },
        },
        plugins: { legend: { display: false }, tooltip: { enabled: false } },
        scales: {
          x: {
            type: "linear",
            min: 0,
            max: X_MAX[col],
            grid: { display: false },
            border: { display: false },
            afterBuildTicks: (s: any) => {
              s.ticks = X_TICKS.map((v) => ({ value: v }));
            },
            afterFit: (s: any) => {
              s.height = xAxisH;
              noPad(s);
            },
            ticks: {
              display: last,
              padding: 17,
              maxRotation: 0,
              color: "#000",
              font: { family: SERIF, size: 64 },
              callback: (v: any) => String(v),
            },
          },
          y: {
            type: "linear",
            min: -lo * step,
            max: hi * step,
            grid: { display: false },
            border: { display: false },
            afterBuildTicks: (s: any) => {
              s.ticks = labels.map((_, i) => ({ value: i * step }));
            },
            afterFit: (s: any) => {
              s.width = AXIS_W;
              noPad(s);
            },
            ticks: {
              padding: col === 0 ? 25 : 35,
              color: "#000",
              font: { family: SERIF, size: 64 },
              callback: (_v: any, i: number) => labels[i],
            },
          },
        },
      },
      plugins: [framePlugin],
    } as any);
    return () => chart.destroy();
  }, []);

  return (
    <canvas
      ref={ref}
      width={w}
      height={h}
      style={{ position: "absolute", left, top, width: w, height: h }}
    />
  );
}

function YTitle({ col, row }: { col: number; row: number }) {
  const cx = col === 0 ? 272 : 2035;
  const cy = TOP0 + row * ROW_H + ROW_H / 2;
  return (
    <div
      style={{
        position: "absolute",
        left: cx,
        top: cy,
        transform: "translate(-50%, -50%) rotate(-90deg)",
        fontFamily: SERIF,
        fontSize: 62,
        whiteSpace: "nowrap",
        lineHeight: 1,
        color: "#000",
      }}
    >
      <span style={{ fontStyle: "italic" }}>η</span>
      <sub style={{ fontSize: 40 }}>{row}</sub>/(°)
    </div>
  );
}

function Caption({ x, y, size, text }: { x: number; y: number; size: number; text: string }) {
  return (
    <div
      style={{
        position: "absolute",
        left: x,
        top: y,
        transform: "translate(-50%, -50%)",
        fontFamily: "'Liberation Serif', 'Noto Sans CJK SC', serif",
        fontSize: size,
        whiteSpace: "nowrap",
        lineHeight: 1,
        color: "#000",
      }}
    >
      {text}
    </div>
  );
}

export default function App() {
  const rows = [0, 1, 2, 3, 4];
  return (
    <div
      style={{
        position: "absolute",
        left: 0,
        top: 0,
        width: 3780,
        height: 2278,
        background: BG,
        overflow: "hidden",
      }}
    >
      {rows.map((r) => (
        <Panel
          key={"a" + r}
          col={0}
          row={r}
          series={A_SERIES[r]}
          step={A_STEPS[r]}
          labels={A_LABELS[r]}
          lo={ROW_LO[r]}
          hi={ROW_HI[r]}
        />
      ))}
      {rows.map((r) => (
        <Panel
          key={"b" + r}
          col={1}
          row={r}
          series={B_SERIES[r]}
          marks={B_MARKS[r]}
          markStyle={B_STYLES[r]}
          step={B_STEPS[r]}
          labels={B_LABELS[r]}
          lo={r === 4 ? 0.39 : ROW_LO[r]}
          hi={r === 4 ? 3.49 : ROW_HI[r]}
        />
      ))}
      {rows.map((r) => (
        <YTitle key={"ya" + r} col={0} row={r} />
      ))}
      {rows.map((r) => (
        <YTitle key={"yb" + r} col={1} row={r} />
      ))}
      <Caption x={1130} y={2132} size={62} text="时间/s" />
      <Caption x={2899} y={2132} size={62} text="时间/s" />
      <Caption x={1126} y={2238} size={64} text="(a) 第100次循环极差曲线" />
      <Caption x={2889} y={2238} size={64} text="(b) 第1 000次循环极差曲线" />
    </div>
  );
}
